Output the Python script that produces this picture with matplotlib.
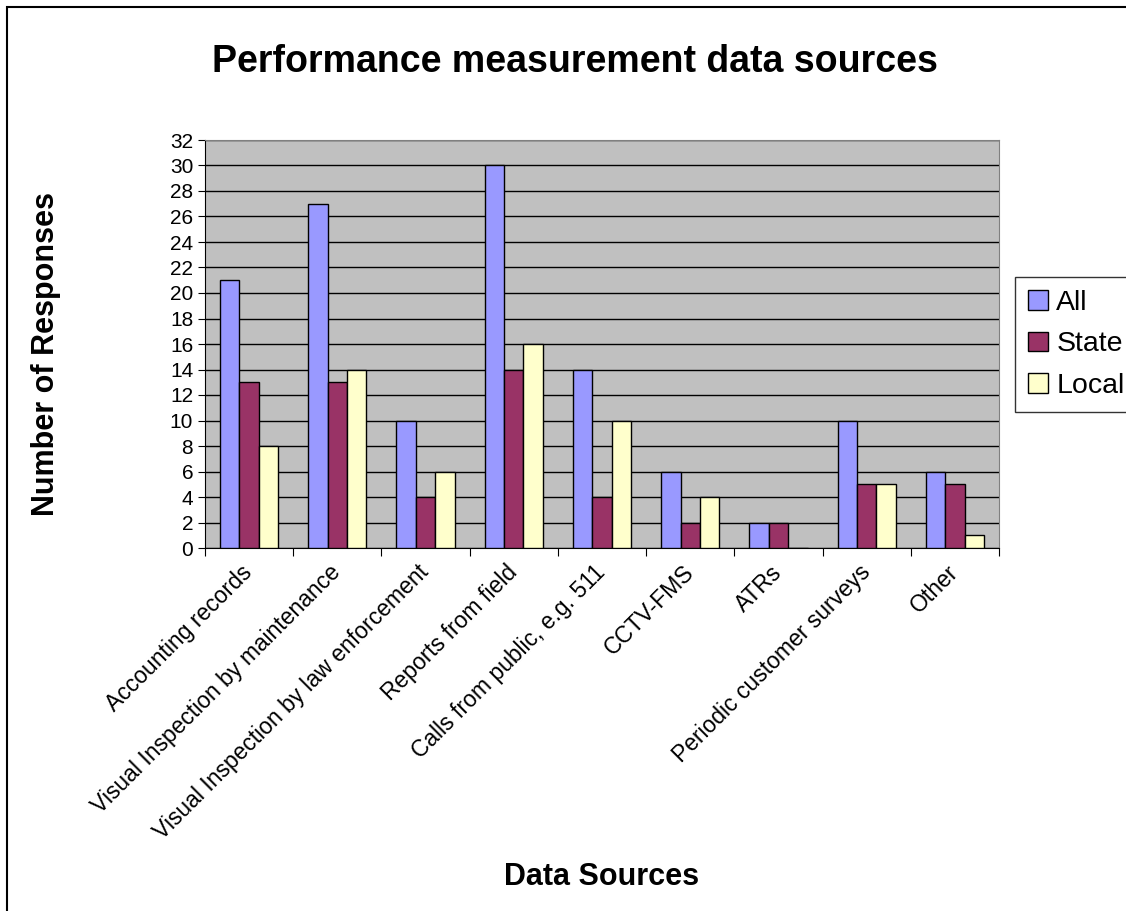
import numpy as np
import matplotlib.pyplot as plt
from matplotlib.patches import Rectangle

plt.rcParams['font.family'] = ['Liberation Sans', 'DejaVu Sans']

categories = [
    'Accounting records',
    'Visual Inspection by maintenance',
    'Visual Inspection by law enforcement',
    'Reports from field',
    'Calls from public, e.g. 511',
    'CCTV-FMS',
    'ATRs',
    'Periodic customer surveys',
    'Other',
]
all_counts = [21, 27, 10, 30, 14, 6, 2, 10, 6]
state_counts = [13, 13, 4, 14, 4, 2, 2, 5, 5]
local_counts = [8, 14, 6, 16, 10, 4, 0, 5, 1]

series = [
    ('All', all_counts, '#9999FF'),
    ('State', state_counts, '#993366'),
    ('Local', local_counts, '#FFFFCC'),
]

W, H = 1126, 911
fig = plt.figure(figsize=(W / 100, H / 100), dpi=100)
ax = fig.add_axes([205 / W, 1 - 548 / H, (999 - 205) / W, (548 - 140) / H])

# outer chart border (left and top visible, rest runs off the image)
fig.patches.append(Rectangle((7 / W, -0.1), 1.2, 1 - 7 / H + 0.1,
                             transform=fig.transFigure, fill=False,
                             edgecolor='black', linewidth=1.5, zorder=0))

x = np.arange(len(categories))
width = 0.22
for i, (name, vals, color) in enumerate(series):
    ax.bar(x + (i - 1) * width, vals, width, color=color, edgecolor='black',
           linewidth=1.0, label=name, zorder=3)

ax.set_facecolor('#C0C0C0')
ax.set_xlim(-0.5, len(categories) - 0.5)
ax.set_ylim(0, 32)
ax.set_yticks(range(0, 33, 2))
ax.yaxis.grid(True, color='black', linewidth=1.0, zorder=0)
ax.set_axisbelow(True)

for side in ['top', 'right']:
    ax.spines[side].set_color('#808080')
ax.spines['left'].set_color('black')
ax.spines['bottom'].set_color('black')

ax.tick_params(axis='y', labelsize=15, length=5, direction='out')
ax.set_xticks(np.arange(-0.5, len(categories), 1.0), minor=False)
ax.set_xticklabels([])
ax.tick_params(axis='x', length=6, direction='out')
ax.set_xticks(x, minor=True)
ax.set_xticklabels(categories, minor=True, rotation=45, ha='right', va='center',
                   rotation_mode='anchor', fontsize=16.5)
ax.tick_params(axis='x', which='minor', length=0, pad=15)

ax.set_xlabel('Data Sources', fontsize=22, fontweight='bold', va='center')
ax.xaxis.set_label_coords(0.5, (548 - 877) / 408)
ax.set_ylabel('Number of Responses', fontsize=22, fontweight='bold', va='center')
ax.yaxis.set_label_coords((46 - 205) / 794, (548 - 354) / 408)

fig.text(575 / W, 1 - 62 / H, 'Performance measurement data sources',
         ha='center', va='center', fontsize=27, fontweight='bold')

leg = fig.legend(loc='upper left', bbox_to_anchor=(1015 / W, 1 - 277 / H),
                 fontsize=20.5, frameon=True, fancybox=False, edgecolor='black',
                 handlelength=0.7, handleheight=0.7, handletextpad=0.3,
                 labelspacing=0.55, borderpad=0.45, borderaxespad=0)
leg.get_frame().set_linewidth(1.0)

fig.savefig('out.png', dpi=100)
